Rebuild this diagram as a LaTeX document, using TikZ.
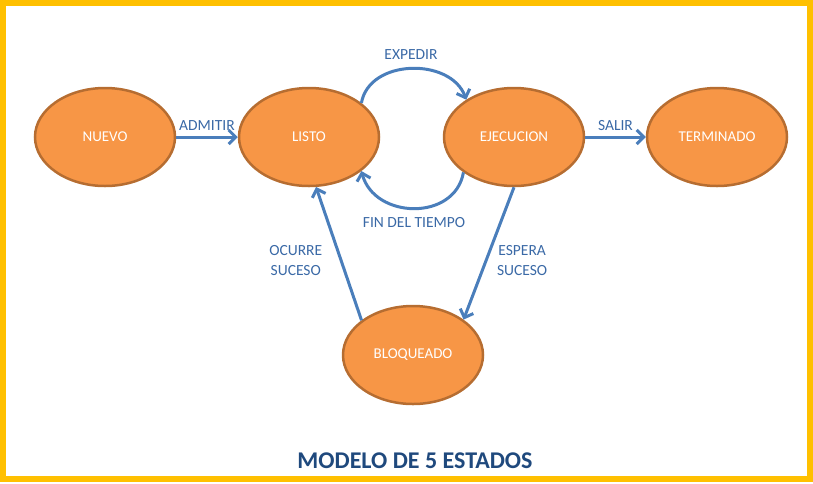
\documentclass[tikz,border=0pt]{standalone}
\usepackage{fontspec}
\setmainfont{Carlito}
\usepackage{tikz}
\usetikzlibrary{shapes,arrows.meta}
\definecolor{naranja}{HTML}{F79646}
\definecolor{bordenaranja}{HTML}{B66D31}
\definecolor{azul}{HTML}{4A7EBB}
\definecolor{textoazul}{HTML}{3A69A6}
\definecolor{azuloscuro}{HTML}{1F497D}
\definecolor{marco}{HTML}{FFC000}
\tikzstyle{estado} = [ellipse, draw=bordenaranja, fill=naranja, line width=2.5pt, minimum width=140pt, minimum height=98pt, text=white, font=\fontsize{15}{18}\selectfont]
\tikzstyle{flecha} = [draw=azul, line width=3pt, -{Straight Barb[length=7pt,width=14pt,line width=3pt]}]
\tikzstyle{etiqueta} = [text=textoazul, font=\fontsize{15.5}{20}\selectfont, align=center]
\tikzstyle{titulo} = [text=azuloscuro, font=\bfseries\fontsize{24}{28}\selectfont]

\begin{document}
\begin{tikzpicture}[x=1pt,y=1pt]
\useasboundingbox (0,0) rectangle (813,-483);
\draw[marco, line width=6pt] (3,-3) rectangle (810,-479);
\node[estado] (nuevo) at (105,-137) {NUEVO};
\node[estado] (listo) at (309,-137) {LISTO};
\node[estado] (ejecucion) at (514,-137) {EJECUCION};
\node[estado] (terminado) at (717,-137) {TERMINADO};
\node[estado] (bloqueado) at (413,-355) {BLOQUEADO};
\draw[flecha] (nuevo) -- node[etiqueta, above=2pt] {ADMITIR} (listo);
\draw[flecha] (ejecucion) -- node[etiqueta, above=2pt] {SALIR} (terminado);
\draw[flecha] (listo.33) to[out=80, in=110, looseness=1.1] node[etiqueta, above=4pt] {EXPEDIR} (ejecucion.142);
\draw[flecha] (ejecucion.215) to[out=260, in=285, looseness=1.25] node[etiqueta, below=4pt] {FIN DEL TIEMPO} (listo.327);
\draw[flecha] (ejecucion.270) -- node[etiqueta, pos=0.55, right=6pt] {ESPERA\\SUCESO} (bloqueado.35);
\draw[flecha] (bloqueado.146) -- node[etiqueta, pos=0.45, left=14pt] {OCURRE\\SUCESO} (listo.278);
\node[titulo] (modelo) at (415,-461) {MODELO DE 5 ESTADOS};
\end{tikzpicture}
\end{document}
